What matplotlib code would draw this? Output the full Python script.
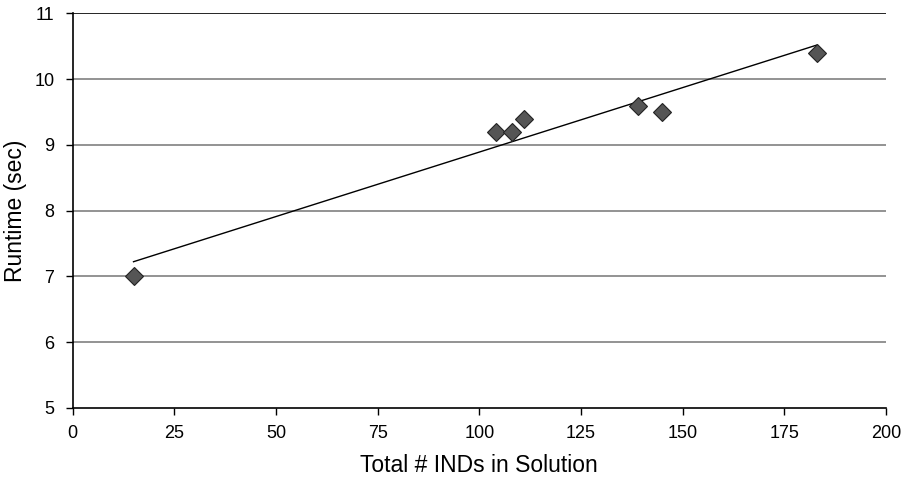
import matplotlib
matplotlib.use("Agg")
import matplotlib.pyplot as plt
import numpy as np

plt.rcParams['font.family'] = ['Liberation Sans', 'DejaVu Sans']

total_inds = [15, 104, 108, 111, 139, 145, 183]
runtime_sec = [7.0, 9.2, 9.2, 9.4, 9.6, 9.5, 10.4]
x_ticks = [0, 25, 50, 75, 100, 125, 150, 175, 200]
y_ticks = [5, 6, 7, 8, 9, 10, 11]

fig = plt.figure(figsize=(9.12, 4.8), dpi=100)
ax = fig.add_axes([0.0795, 0.15, 0.892, 0.822])

ax.set_xlim(0, 200)
ax.set_ylim(5, 11)
ax.set_xticks(x_ticks)
ax.set_yticks(y_ticks)

for yv in y_ticks[1:]:
    ax.axhline(yv, color='black' if yv == 11 else '#808080', lw=1.2, zorder=1)

slope, intercept = np.polyfit(total_inds, runtime_sec, 1)
xs = np.array([min(total_inds), max(total_inds)])
ax.plot(xs, slope * xs + intercept, color='black', lw=1.0, zorder=2)

ax.plot(total_inds, runtime_sec, linestyle='none', marker='D', ms=9.5,
        markerfacecolor='#555555', markeredgecolor='#222222', markeredgewidth=0.8, zorder=3)

for s in ['top', 'right']:
    ax.spines[s].set_visible(False)
ax.spines['left'].set_linewidth(1.2)
ax.spines['bottom'].set_linewidth(1.2)
ax.tick_params(axis='both', direction='out', length=5, width=1, labelsize=13)
ax.tick_params(axis='x', pad=7)
ax.tick_params(axis='y', pad=8)

ax.set_xlabel('Total # INDs in Solution', fontsize=16.5, labelpad=9)
ax.set_ylabel('Runtime (sec)', fontsize=16.5, labelpad=5)

fig.savefig('out.png', dpi=100)
